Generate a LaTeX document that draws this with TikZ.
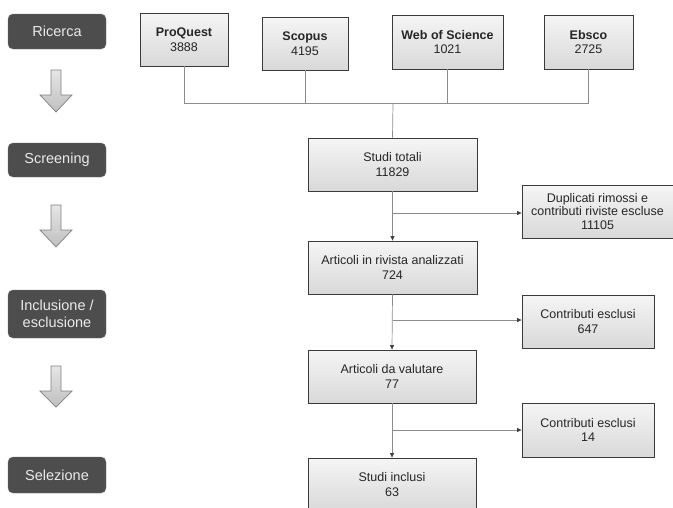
\documentclass[tikz,border=0pt]{standalone}
\usepackage{fontspec}
\setmainfont{Liberation Sans}
\usetikzlibrary{arrows.meta}
\definecolor{pillfill}{HTML}{4D4D4D}
\definecolor{pilltext}{HTML}{EAEAEA}
\definecolor{boxline}{HTML}{3A3A3A}
\definecolor{conn}{HTML}{8C8C8C}
\definecolor{tipcol}{HTML}{404040}
\begin{document}
\begin{tikzpicture}[x=1pt,y=-1pt,
  pill/.style={draw=black!55, fill=pillfill, rounded corners=5pt, text=pilltext,
    font=\fontsize{14.5}{16.5}\selectfont, align=center, inner sep=0pt},
  box/.style={draw=boxline, line width=0.8pt, top color=white!96!black, bottom color=white!85!black,
    font=\fontsize{12.5}{14.5}\selectfont, align=center, inner sep=0pt, text=black!85},
  src/.style={box, font=\fontsize{12.5}{14.5}\selectfont},
  conline/.style={draw=conn, line width=0.7pt},
  tip/.style={conline, -{Triangle[length=4.5pt,width=4pt,color=tipcol,fill=tipcol]}},
  bigarrow/.style={draw=black!50, line width=0.7pt, top color=white!90!black, bottom color=white!75!black}
]
\useasboundingbox (0,0) rectangle (673,507);
% left stage pills
\node[pill, minimum width=98pt, minimum height=35pt] (p1) at (57,31.5) {Ricerca};
\node[pill, minimum width=98pt, minimum height=34pt] (p2) at (57,160) {Screening};
\node[pill, minimum width=98pt, minimum height=48pt] (p3) at (57,314) {Inclusione /\\esclusione};
\node[pill, minimum width=98pt, minimum height=36pt] (p4) at (57,475) {Selezione};
% big down arrows
\foreach \t/\h/\b in {70/95/112, 205/230/247, 366/391/407}{
  \path[bigarrow] (51,\t) -- (61,\t) -- (61,\h) -- (72,\h) -- (56,\b) -- (40,\h) -- (51,\h) -- cycle;
}
% source boxes
\node[src, minimum width=88pt, minimum height=53pt] (pq) at (184,39.5) {\textbf{ProQuest}\\3888};
\node[src, minimum width=86pt, minimum height=53pt] (sc) at (305,43.5) {\textbf{Scopus}\\4195};
\node[src, minimum width=111pt, minimum height=54pt] (ws) at (447.5,42) {\textbf{Web of Science}\\1021};
\node[src, minimum width=89pt, minimum height=54pt] (eb) at (588.5,42) {\textbf{Ebsco}\\2725};
% main column
\node[box, minimum width=169pt, minimum height=53pt] (st) at (392.5,164.5) {Studi totali\\11829};
\node[box, minimum width=169pt, minimum height=53pt] (ar) at (392.5,267.5) {Articoli in rivista analizzati\\724};
\node[box, minimum width=168pt, minimum height=53pt] (av) at (392,376.5) {Articoli da valutare\\77};
\node[box, minimum width=168pt, minimum height=53pt] (si) at (392,484.5) {Studi inclusi\\63};
% exclusion boxes
\node[box, minimum width=151pt, minimum height=53pt, font=\fontsize{12.5}{13.5}\selectfont] (du) at (597.5,211.5) {Duplicati rimossi e\\contributi riviste escluse\\11105};
\node[box, minimum width=132pt, minimum height=53pt] (e1) at (588,321.5) {Contributi esclusi\\647};
\node[box, minimum width=132pt, minimum height=54pt] (e2) at (588,430) {Contributi esclusi\\14};
% merge of sources
\coordinate (J) at (393,103);
\draw[conline] (pq.south) -- (pq.south |- J) -- (eb.south |- J) -- (eb.south);
\draw[conline] (sc.south) -- (sc.south |- J);
\draw[conline] (ws.south) -- (ws.south |- J);
\draw[conline] (J) -- (st.north);
% flow
\coordinate (b1) at (393,213);
\coordinate (b2) at (393,320);
\coordinate (b3) at (393,430);
\draw[tip] (st.south) -- (ar.north);
\draw[tip] (b1) -- (b1 -| du.west);
\draw[tip] (ar.south) -- (av.north);
\draw[tip] (b2) -- (b2 -| e1.west);
\draw[tip] (av.south) -- (si.north);
\draw[tip] (b3) -- (b3 -| e2.west);
\end{tikzpicture}
\end{document}
